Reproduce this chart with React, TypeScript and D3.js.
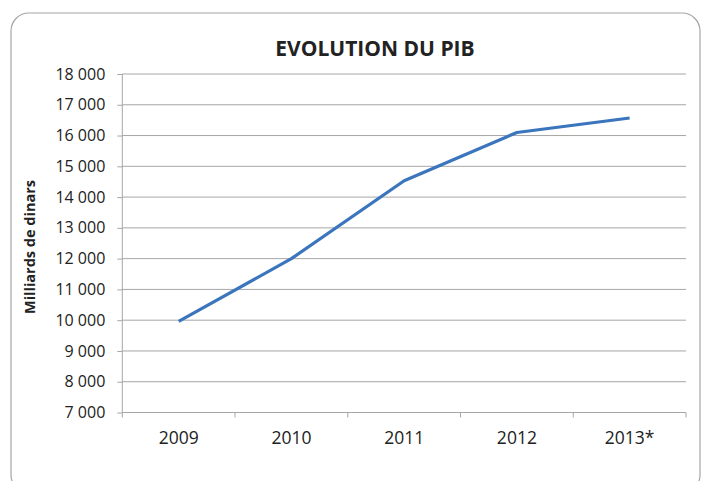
import React, { useEffect, useRef } from "react";
import * as d3 from "d3";

const years = ["2009", "2010", "2011", "2012", "2013*"];
const pib = [9960, 12000, 14530, 16100, 16570];
const yTicks = [7000, 8000, 9000, 10000, 11000, 12000, 13000, 14000, 15000, 16000, 17000, 18000];

const width = 702;
const height = 481;
const margin = { top: 74, right: 16, bottom: 68.5, left: 122.3 };
const font = "'Open Sans', sans-serif";

const App = () => {
  const ref = useRef<SVGSVGElement>(null);

  useEffect(() => {
    const svg = d3.select(ref.current);
    svg.selectAll("*").remove();

    // outer frame
    svg
      .append("rect")
      .attr("x", 11)
      .attr("y", 13)
      .attr("width", 689)
      .attr("height", 480)
      .attr("rx", 18)
      .attr("fill", "#fff")
      .attr("stroke", "#a6a6a6")
      .attr("stroke-width", 1.2);

    const x = d3
      .scaleBand()
      .domain(years)
      .range([margin.left, width - margin.right]);

    const y = d3
      .scaleLinear()
      .domain([7000, 18000])
      .range([height - margin.bottom, margin.top]);

    const fmt = (d: number) => d3.format(",")(d).replace(",", " ");

    // grid lines
    svg
      .append("g")
      .selectAll("line")
      .data(yTicks.slice(1))
      .join("line")
      .attr("x1", margin.left)
      .attr("x2", width - margin.right)
      .attr("y1", (d) => y(d))
      .attr("y2", (d) => y(d))
      .attr("stroke", "#a6a6a6")
      .attr("stroke-width", 1);

    // y axis
    const yAxis = svg
      .append("g")
      .attr("transform", `translate(${margin.left},0)`)
      .call(d3.axisLeft(y).tickValues(yTicks).tickSize(5).tickPadding(12).tickFormat((d) => fmt(d as number)));
    yAxis.select(".domain").attr("stroke", "#a6a6a6").attr("d", `M0,${y(7000)}V${y(18000)}`);
    yAxis.selectAll(".tick line").attr("stroke", "#a6a6a6");
    yAxis.selectAll("text").attr("font-family", font).attr("font-size", 16).attr("fill", "#222");

    // x axis
    const xAxis = svg
      .append("g")
      .attr("transform", `translate(0,${height - margin.bottom})`)
      .call(d3.axisBottom(x).tickSize(0).tickPadding(19));
    xAxis.select(".domain").attr("stroke", "#a6a6a6").attr("d", `M${margin.left},0H${width - margin.right}`);
    xAxis.selectAll("text").attr("font-family", font).attr("font-size", 17.5).attr("fill", "#222");
    xAxis
      .append("g")
      .selectAll("line")
      .data([...years.map((d) => x(d) as number), width - margin.right])
      .join("line")
      .attr("x1", (d) => d)
      .attr("x2", (d) => d)
      .attr("y1", 0)
      .attr("y2", 5)
      .attr("stroke", "#a6a6a6");

    // line
    const line = d3
      .line<number>()
      .x((d, i) => (x(years[i]) as number) + x.bandwidth() / 2)
      .y((d) => y(d));

    svg
      .append("path")
      .datum(pib)
      .attr("d", line)
      .attr("fill", "none")
      .attr("stroke", "#3a75bd")
      .attr("stroke-width", 3.2)
      .attr("stroke-linejoin", "round");

    // title
    svg
      .append("text")
      .attr("x", 375)
      .attr("y", 56)
      .attr("text-anchor", "middle")
      .attr("font-family", font)
      .attr("font-weight", "bold")
      .attr("font-size", 21)
      .attr("fill", "#222")
      .text("EVOLUTION DU PIB");

    // y label
    svg
      .append("text")
      .attr("transform", `translate(35,247) rotate(-90)`)
      .attr("text-anchor", "middle")
      .attr("font-family", font)
      .attr("font-weight", "bold")
      .attr("font-size", 14.5)
      .attr("fill", "#222")
      .text("Milliards de dinars");
  }, []);

  return (
    <svg
      ref={ref}
      width={width}
      height={height}
      style={{ position: "absolute", left: 0, top: 0 }}
    />
  );
};

export default App;
